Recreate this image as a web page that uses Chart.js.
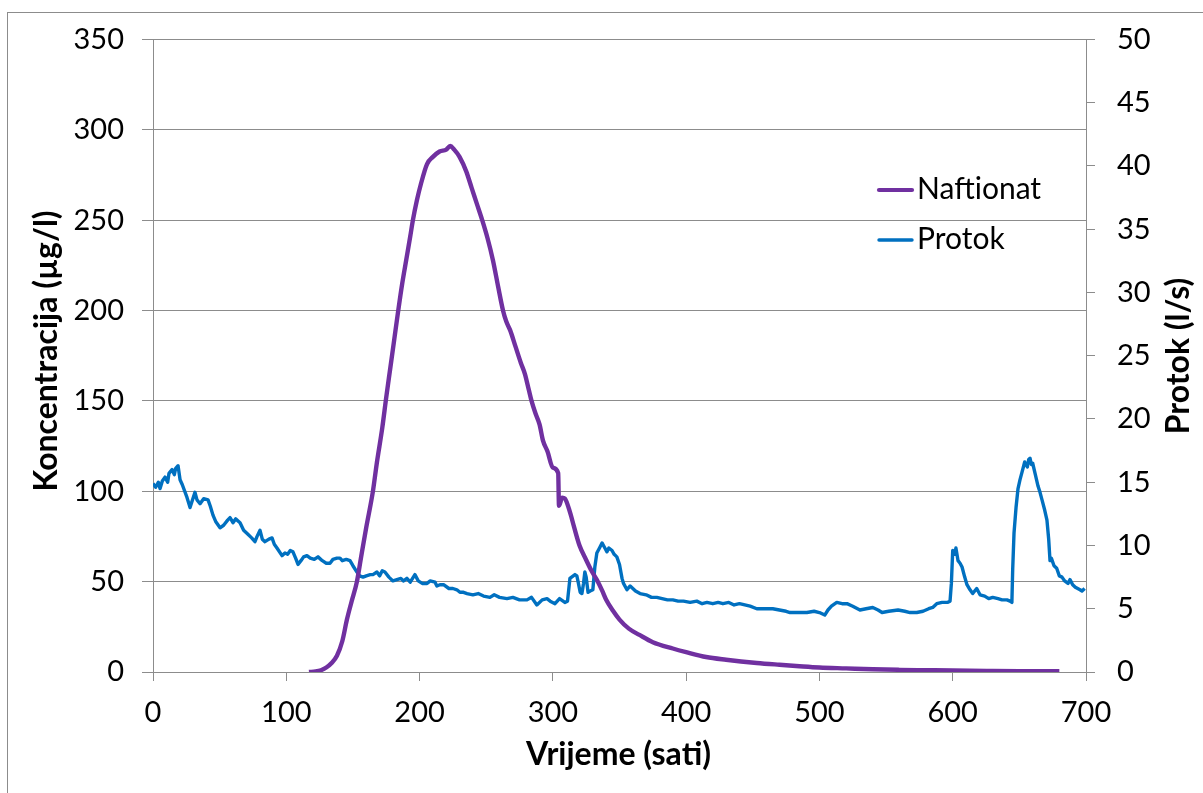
<!DOCTYPE html>
<html>
<head>
<meta charset="utf-8">
<script src="https://cdn.jsdelivr.net/npm/chart.js@4.4.1/dist/chart.umd.min.js"></script>
<style>
html,body{margin:0;padding:0;background:#fff;}
#c{display:block;}
</style>
</head>
<body>
<canvas id="c" width="1203" height="793"></canvas>
<script>
// ---- Data ----
const naftTime = [117,122,126,130,134,138,142,145.5,149,153,156,160,165,168,172,175,178,181,184,187,190,193,195,198,201,205.6,210,215,220,223,226,230,235,239,243,247,251,255,259,262.6,265,268,272,276,279,282,284,287,290,292.6,296,300,304,304.6,307,309,313,316,320,325,329,333,337,340,345,350,357,365,375,390,400,415,430,453,470,485,500,520,540,560,580,600,630,650,680];
const naftValues = [0,0.3,1,2.5,5,9,17,29,39,50,63,80,100,116,135,152,168,184,200,215,228,241,250,261,270,281,285,288,289,291,289,285,277,268,259,250,240,228,213,200,194,189,180,171,165,156,150,143,137,128,122,113,110,92,96.5,96,88,80,70,62,56,51,45,40,34,29,24,20.5,16.5,13,11,8.3,6.8,5,4,3.2,2.5,2,1.5,1.2,1,0.8,0.6,0.5,0.4];

const protokTime = [0,2,4,5.3,7,9,11,12,14.3,16,17,18.8,20.3,22,25.5,27.8,29,31.5,33,35.3,38,41.3,43,45,47,50.3,53,56,57.8,60,62,65.3,68,71,74,76.5,78,80.3,82,84,87,89.3,91,93,96.8,99,101,103,105,107,108.8,111,113,115.5,118,121,123.8,127,130,132.8,135,138,140.3,142,145,147.8,150,153,155,157.6,160,163,165,168,170,172,174,177,180,183,186,188,190.5,193,196.5,199,202,205.6,208,211.6,213,215.3,218,222,225,228,230.3,233,235.6,240,244,248,252.8,256,260,265.6,270,275,280.6,284,288,292,295.6,298,301.6,305,309,311,312.8,316.6,318,319,320.5,321.8,323,324,325,326.4,328,330,331.5,333,335,336.9,338.5,340.6,342,344.4,346,348,350,351.9,353,355.6,358,360,362,365.4,370,374,378,382,386,390,394,398,403,408,412,415.6,420,424,427.6,432,436,440,444,448,453,458,465,470,475,478,484,490.6,496,500,504,506.4,509,513,517,520.7,525,530.4,535,540,544,547,552,559,564,568,573,577.7,582,585,588,592,596,598,599,600,601.5,602.4,604,605.5,607,609,610.7,613,615,618,620.5,624,627,630,634,637,640.7,643,644.4,645,646,647.5,649,650.5,652,654,656,657,658,659,660,662,664,665.5,667,669,670.7,672,673,674,676,678,680,682,684,686.5,688,690,692,695.5,697,699];
const protokValues = [14.9,14.6,15.0,14.5,15.1,15.4,15.0,15.7,16.0,15.6,16.1,16.3,15.2,14.8,13.8,13.0,13.4,14.2,13.6,13.3,13.7,13.6,13.1,12.4,11.9,11.4,11.6,12.0,12.2,11.8,12.1,11.8,11.2,10.9,10.6,10.3,10.7,11.2,10.5,10.3,10.5,10.6,10.1,9.8,9.2,9.4,9.3,9.6,9.5,9.0,8.5,8.8,9.1,9.2,9.0,8.9,9.1,8.8,8.6,8.6,8.9,9.0,9.0,8.8,8.9,8.8,8.4,7.9,7.6,7.5,7.6,7.7,7.7,7.9,7.6,8.0,7.9,7.5,7.2,7.3,7.4,7.2,7.4,7.1,7.7,7.2,7.0,7.0,7.2,7.1,6.8,6.9,6.9,6.6,6.6,6.5,6.3,6.3,6.2,6.1,6.2,6.0,5.9,6.1,5.9,5.8,5.9,5.7,5.7,5.9,5.3,5.7,5.8,5.6,5.4,5.8,5.5,5.6,7.4,7.7,7.6,7.1,6.3,6.2,7.0,7.9,7.5,6.3,6.4,6.5,8.3,9.4,9.8,10.2,9.9,9.5,9.8,9.6,9.3,9.1,8.5,7.4,7.0,6.5,6.8,6.6,6.4,6.2,6.1,5.9,5.9,5.8,5.7,5.7,5.6,5.6,5.5,5.6,5.4,5.5,5.4,5.5,5.4,5.5,5.3,5.4,5.3,5.2,5.0,5.0,5.0,4.9,4.8,4.7,4.7,4.7,4.8,4.7,4.5,4.9,5.2,5.5,5.4,5.4,5.2,4.9,5.0,5.1,4.9,4.7,4.8,4.9,4.8,4.7,4.7,4.8,5.0,5.1,5.4,5.5,5.5,5.6,7.0,9.6,9.3,9.8,8.8,8.6,8.3,7.5,6.9,6.5,6.2,6.6,6.1,6.0,5.8,5.9,5.8,5.7,5.7,5.6,5.5,8.1,11.0,13.0,14.5,15.2,15.8,16.6,16.2,16.8,16.9,16.4,16.5,15.6,14.7,14.2,13.6,12.8,12.0,10.5,8.8,9.0,8.4,8.2,7.6,7.5,7.2,7.0,7.3,6.9,6.7,6.5,6.4,6.6];

const xTicks = [0,100,200,300,400,500,600,700];
const leftTicks = [0,50,100,150,200,250,300,350];
const rightTicks = [0,5,10,15,20,25,30,35,40,45,50];
const seriesNames = ['Naftionat','Protok'];
const axisTitles = {x:'Vrijeme (sati)', left:'Koncentracija (µg/l)', right:'Protok (l/s)'};

// ---- Styles ----
const NAFT_COLOR = '#7030A0';
const PROTOK_COLOR = '#0070C0';
const GRID = '#8c8c8c';
const FONT = 'Lato, "Open Sans", sans-serif';

const frameAndTitles = {
  id: 'frameAndTitles',
  beforeDraw(chart) {
    const ctx = chart.ctx;
    ctx.save();
    ctx.fillStyle = '#fff';
    ctx.fillRect(0, 0, chart.width, chart.height);
    ctx.strokeStyle = '#8c8c8c';
    ctx.lineWidth = 1;
    ctx.strokeRect(7.5, 12.5, 1400, 1000);
    ctx.restore();
  },
  afterDraw(chart) {
    const ctx = chart.ctx;
    const a = chart.chartArea;
    ctx.save();
    ctx.fillStyle = '#000';
    ctx.font = 'bold 32px ' + FONT;
    ctx.textAlign = 'center';
    ctx.textBaseline = 'middle';
    // x title
    ctx.fillText(axisTitles.x, (a.left + a.right) / 2 - 1, 755);
    // left title
    ctx.save();
    ctx.translate(47, 351);
    ctx.rotate(-Math.PI / 2);
    ctx.fillText(axisTitles.left, 0, 0);
    ctx.restore();
    // right title
    ctx.save();
    ctx.translate(1179, 356);
    ctx.rotate(-Math.PI / 2);
    ctx.fillText(axisTitles.right, 0, 0);
    ctx.restore();
    // legend
    const items = [
      {name: seriesNames[0], color: NAFT_COLOR, w: 4.2, y: 190},
      {name: seriesNames[1], color: PROTOK_COLOR, w: 3.4, y: 240}
    ];
    ctx.font = '30px ' + FONT;
    ctx.textAlign = 'left';
    for (const it of items) {
      ctx.strokeStyle = it.color;
      ctx.lineWidth = it.w;
      ctx.lineCap = 'round';
      ctx.beginPath();
      ctx.moveTo(879, it.y);
      ctx.lineTo(912, it.y);
      ctx.stroke();
      ctx.fillText(it.name, 917, it.y - 1);
    }
    ctx.restore();
  }
};

const chart = new Chart(document.getElementById('c'), {
  type: 'line',
  data: {
    datasets: [
      {
        label: seriesNames[1],
        data: protokTime.map((t, i) => ({x: t, y: protokValues[i]})),
        yAxisID: 'y2',
        borderColor: PROTOK_COLOR,
        borderWidth: 3.4,
        pointRadius: 0,
        tension: 0,
        borderJoinStyle: 'round',
        order: 2
      },
      {
        label: seriesNames[0],
        data: naftTime.map((t, i) => ({x: t, y: naftValues[i]})),
        yAxisID: 'y',
        borderColor: NAFT_COLOR,
        borderWidth: 4.4,
        pointRadius: 0,
        cubicInterpolationMode: 'monotone',
        borderJoinStyle: 'round',
        order: 1
      }
    ]
  },
  options: {
    responsive: false,
    animation: false,
    devicePixelRatio: 1,
    layout: {padding: {top: 39, left: 0, right: 0, bottom: 0}},
    plugins: {legend: {display: false}, tooltip: {enabled: false}},
    scales: {
      x: {
        type: 'linear',
        min: 0, max: 700,
        afterBuildTicks: s => { s.ticks = xTicks.map(v => ({value: v})); },
        ticks: {color: '#000', font: {family: FONT, size: 29}, padding: 14, maxRotation: 0},
        grid: {drawOnChartArea: false, drawTicks: true, tickLength: 9, color: GRID, lineWidth: 1},
        border: {display: true, color: GRID, width: 1},
        afterFit: s => { s.height = 121; }
      },
      y: {
        type: 'linear',
        position: 'left',
        min: 0, max: 350,
        afterBuildTicks: s => { s.ticks = leftTicks.map(v => ({value: v})); },
        ticks: {color: '#000', font: {family: FONT, size: 29}, padding: 18},
        grid: {drawOnChartArea: true, drawTicks: true, tickLength: 11, color: GRID, lineWidth: 1},
        border: {display: true, color: GRID, width: 1},
        afterFit: s => { s.width = 153; }
      },
      y2: {
        type: 'linear',
        position: 'right',
        min: 0, max: 50,
        afterBuildTicks: s => { s.ticks = rightTicks.map(v => ({value: v})); },
        ticks: {color: '#000', font: {family: FONT, size: 29}, padding: 22},
        grid: {drawOnChartArea: false, drawTicks: true, tickLength: 9, color: GRID, lineWidth: 1},
        border: {display: true, color: GRID, width: 1},
        afterFit: s => { s.width = 117; }
      }
    }
  },
  plugins: [frameAndTitles]
});
</script>
</body>
</html>
